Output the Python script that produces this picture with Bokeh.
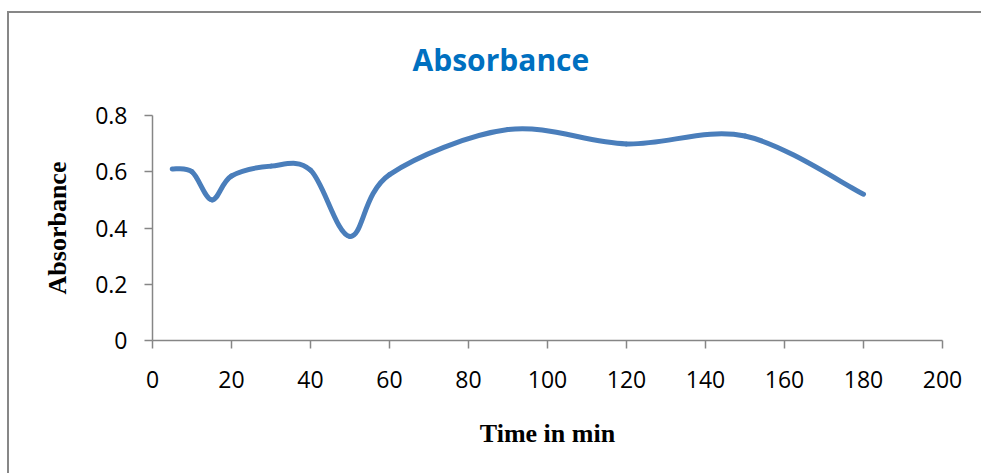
from bokeh.plotting import figure
from bokeh.models import Range1d, FixedTicker
from bokeh.embed import file_html
from bokeh.resources import INLINE

# Data
time_min = [5, 10, 15, 20, 30, 40, 50, 60, 90, 120, 150, 180]
absorbance = [0.61, 0.60, 0.50, 0.585, 0.62, 0.606, 0.37, 0.59, 0.75, 0.699, 0.727, 0.52]
x_ticks = [0, 20, 40, 60, 80, 100, 120, 140, 160, 180, 200]
y_ticks = [0, 0.2, 0.4, 0.6, 0.8]

title_text = "Absorbance"
x_title = "Time in min"
y_title = "Absorbance"

AXIS = "#868686"
EDGE = "#878787"

p = figure(width=981, height=473, output_backend="svg", toolbar_location=None,
           x_range=Range1d(0, 200), y_range=Range1d(0, 0.8),
           min_border_left=152, min_border_right=39, min_border_top=112, min_border_bottom=133)
# chart-area edge: only its top and left sides are visible in the reference
p.styles = {
    "background": ("linear-gradient(%s, %s) 7px 11px / 974px 2px no-repeat, "
                   "linear-gradient(%s, %s) 7px 11px / 2px 462px no-repeat, white")
                  % (EDGE, EDGE, EDGE, EDGE)
}
p.outline_line_color = None
p.xgrid.visible = False
p.ygrid.visible = False
p.background_fill_color = "white"
p.border_fill_color = None

p.title.text = title_text
p.title.align = "left"
p.title.text_font = "Open Sans"
p.title.text_font_style = "bold"
p.title.text_font_size = "30px"
p.title.text_color = "#0070C0"
p.title.offset = 260
p.title.standoff = 72

for ax in (p.xaxis[0], p.yaxis[0]):
    ax.axis_line_color = AXIS
    ax.axis_line_width = 1.5
    ax.major_tick_line_color = AXIS
    ax.major_tick_line_width = 1.5
    ax.major_tick_in = 0
    ax.major_tick_out = 8
    ax.minor_tick_line_color = None
    ax.major_label_text_font = "Open Sans"
    ax.major_label_text_font_size = "23px"
    ax.major_label_text_color = "black"
    ax.axis_label_text_font = "Liberation Serif"
    ax.axis_label_text_font_style = "bold"
    ax.axis_label_text_font_size = "26px"
    ax.axis_label_text_color = "black"

p.xaxis.ticker = FixedTicker(ticks=x_ticks)
p.yaxis.ticker = FixedTicker(ticks=y_ticks)
p.yaxis.major_label_overrides = {0: "0"}
p.xaxis.major_label_standoff = 22
p.yaxis.major_label_standoff = 17
p.xaxis.axis_label = x_title
p.yaxis.axis_label = y_title
p.xaxis.axis_label_standoff = 28
p.yaxis.axis_label_standoff = 20

# Smoothed line (Excel-style Catmull-Rom Bezier through the data points)
n = len(time_min)
x0, y0, x1, y1, cx0, cy0, cx1, cy1 = [], [], [], [], [], [], [], []
for i in range(n - 1):
    pa = (time_min[max(i - 1, 0)], absorbance[max(i - 1, 0)])
    pb = (time_min[i], absorbance[i])
    pc = (time_min[i + 1], absorbance[i + 1])
    pd = (time_min[min(i + 2, n - 1)], absorbance[min(i + 2, n - 1)])
    x0.append(pb[0]); y0.append(pb[1])
    x1.append(pc[0]); y1.append(pc[1])
    cx0.append(pb[0] + (pc[0] - pa[0]) / 6.0)
    cy0.append(pb[1] + (pc[1] - pa[1]) / 6.0)
    cx1.append(pc[0] - (pd[0] - pb[0]) / 6.0)
    cy1.append(pc[1] - (pd[1] - pb[1]) / 6.0)

p.bezier(x0=x0, y0=y0, x1=x1, y1=y1, cx0=cx0, cy0=cy0, cx1=cx1, cy1=cy1,
         line_color="#4A7EBB", line_width=5, line_cap="round")

open("out.html", "w").write(file_html(p, INLINE))
